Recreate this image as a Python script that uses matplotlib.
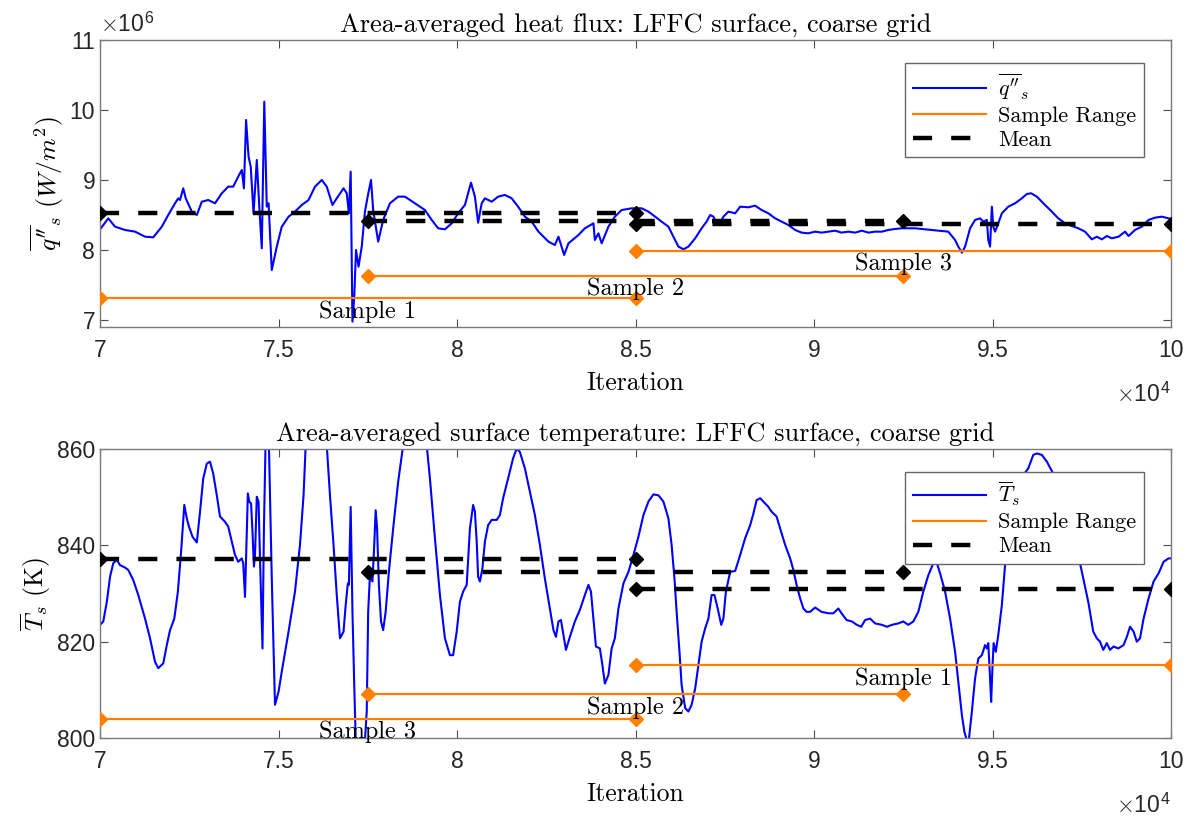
import numpy as np
import matplotlib
matplotlib.use("Agg")
import matplotlib.pyplot as plt
from matplotlib.lines import Line2D
from matplotlib.ticker import FuncFormatter, FixedLocator

# Heat flux (x in 1e4 iterations, y in 1e6 W/m^2)
hf_x = [7.000, 7.023, 7.042, 7.070, 7.098, 7.126, 7.149, 7.173, 7.191, 7.210, 7.219, 7.224, 7.233, 7.240,
        7.257, 7.271, 7.285, 7.303, 7.322, 7.341, 7.359, 7.373, 7.387, 7.397, 7.403, 7.409, 7.416, 7.422,
        7.430, 7.439, 7.446, 7.453, 7.460, 7.467, 7.472, 7.481, 7.495, 7.509, 7.528, 7.546, 7.565, 7.584,
        7.602, 7.621, 7.635, 7.651, 7.663, 7.682, 7.691, 7.697, 7.702, 7.707, 7.712, 7.717, 7.724, 7.733,
        7.742, 7.751, 7.759, 7.765, 7.779, 7.793, 7.812, 7.835, 7.854, 7.882, 7.910, 7.929, 7.947, 7.966,
        7.985, 8.003, 8.022, 8.031, 8.039, 8.050, 8.059, 8.069, 8.078, 8.097, 8.115, 8.134, 8.153, 8.171,
        8.190, 8.209, 8.228, 8.256, 8.274, 8.284, 8.300, 8.312, 8.340, 8.358, 8.382, 8.386, 8.396, 8.405,
        8.424, 8.442, 8.461, 8.489, 8.517, 8.536, 8.555, 8.573, 8.592, 8.606, 8.620, 8.634, 8.648, 8.667,
        8.685, 8.699, 8.709, 8.718, 8.727, 8.737, 8.746, 8.760, 8.779, 8.793, 8.816, 8.835, 8.853, 8.872,
        8.891, 8.909, 8.928, 8.947, 8.965, 8.984, 9.003, 9.021, 9.040, 9.059, 9.077, 9.096, 9.115, 9.134,
        9.152, 9.171, 9.190, 9.208, 9.227, 9.246, 9.283, 9.311, 9.348, 9.376, 9.395, 9.404, 9.414, 9.423,
        9.437, 9.451, 9.465, 9.474, 9.484, 9.488, 9.493, 9.498, 9.502, 9.507, 9.516, 9.526, 9.544, 9.563,
        9.582, 9.596, 9.608, 9.624, 9.647, 9.666, 9.684, 9.703, 9.722, 9.740, 9.759, 9.778, 9.792, 9.806,
        9.820, 9.834, 9.853, 9.871, 9.881, 9.899, 9.918, 9.937, 9.955, 9.974, 9.993, 10.000]
hf_y = [8.295, 8.452, 8.333, 8.286, 8.262, 8.190, 8.181, 8.333, 8.500, 8.667, 8.738, 8.714, 8.881, 8.738,
        8.548, 8.500, 8.690, 8.714, 8.667, 8.810, 8.905, 8.905, 9.048, 9.143, 8.881, 9.857, 9.333, 9.190,
        8.524, 9.286, 8.619, 8.024, 10.119, 8.619, 8.667, 7.714, 8.048, 8.333, 8.476, 8.548, 8.643, 8.714,
        8.905, 9.000, 8.905, 8.643, 8.738, 8.881, 8.810, 8.524, 9.119, 6.976, 7.333, 8.000, 7.762, 8.048,
        8.550, 8.800, 9.000, 8.571, 8.119, 8.429, 8.667, 8.762, 8.762, 8.667, 8.571, 8.429, 8.310, 8.295,
        8.381, 8.524, 8.643, 8.810, 8.962, 8.762, 8.390, 8.667, 8.738, 8.690, 8.762, 8.786, 8.738, 8.619,
        8.476, 8.405, 8.262, 8.119, 8.071, 8.190, 7.929, 8.095, 8.214, 8.310, 8.381, 8.143, 8.238, 8.095,
        8.333, 8.476, 8.571, 8.595, 8.595, 8.548, 8.476, 8.405, 8.333, 8.190, 8.048, 8.010, 8.048, 8.167,
        8.310, 8.405, 8.500, 8.476, 8.381, 8.381, 8.476, 8.548, 8.524, 8.619, 8.610, 8.633, 8.571, 8.524,
        8.452, 8.405, 8.357, 8.286, 8.248, 8.238, 8.262, 8.248, 8.262, 8.276, 8.248, 8.262, 8.248, 8.276,
        8.248, 8.262, 8.262, 8.286, 8.300, 8.310, 8.310, 8.295, 8.276, 8.262, 8.143, 8.048, 7.962, 8.048,
        8.310, 8.429, 8.452, 8.405, 8.429, 8.143, 8.048, 8.619, 8.333, 8.262, 8.381, 8.524, 8.619, 8.667,
        8.738, 8.800, 8.810, 8.762, 8.643, 8.548, 8.452, 8.381, 8.343, 8.310, 8.262, 8.152, 8.190, 8.152,
        8.200, 8.167, 8.190, 8.262, 8.200, 8.286, 8.333, 8.429, 8.462, 8.476, 8.452, 8.440]

# Surface temperature (x in 1e4 iterations, y in K)
ts_x = [7.000, 7.009, 7.019, 7.028, 7.037, 7.047, 7.056, 7.070, 7.079, 7.093, 7.107, 7.126, 7.140, 7.154,
        7.163, 7.177, 7.187, 7.196, 7.208, 7.218, 7.227, 7.236, 7.243, 7.249, 7.259, 7.271, 7.280, 7.289,
        7.299, 7.308, 7.317, 7.327, 7.336, 7.350, 7.359, 7.369, 7.378, 7.387, 7.397, 7.401, 7.406, 7.411,
        7.414, 7.418, 7.423, 7.427, 7.431, 7.434, 7.439, 7.444, 7.448, 7.455, 7.459, 7.464, 7.470, 7.473,
        7.481, 7.490, 7.500, 7.509, 7.528, 7.546, 7.560, 7.570, 7.576, 7.593, 7.612, 7.635, 7.644, 7.654,
        7.663, 7.672, 7.682, 7.688, 7.694, 7.697, 7.702, 7.707, 7.712, 7.716, 7.724, 7.735, 7.742, 7.747,
        7.751, 7.756, 7.763, 7.768, 7.772, 7.776, 7.781, 7.787, 7.793, 7.800, 7.809, 7.821, 7.835, 7.849,
        7.868, 7.891, 7.915, 7.924, 7.938, 7.952, 7.966, 7.980, 7.989, 7.999, 8.008, 8.017, 8.027, 8.036,
        8.045, 8.050, 8.055, 8.059, 8.064, 8.071, 8.078, 8.087, 8.097, 8.111, 8.120, 8.129, 8.143, 8.157,
        8.167, 8.176, 8.190, 8.204, 8.218, 8.232, 8.246, 8.260, 8.270, 8.277, 8.284, 8.291, 8.298, 8.305,
        8.316, 8.330, 8.344, 8.358, 8.368, 8.375, 8.382, 8.389, 8.400, 8.407, 8.414, 8.424, 8.433, 8.442,
        8.452, 8.466, 8.480, 8.494, 8.508, 8.522, 8.536, 8.550, 8.564, 8.578, 8.592, 8.601, 8.609, 8.615,
        8.623, 8.629, 8.639, 8.648, 8.657, 8.667, 8.676, 8.685, 8.695, 8.704, 8.713, 8.721, 8.730, 8.740,
        8.746, 8.753, 8.765, 8.779, 8.793, 8.807, 8.821, 8.830, 8.839, 8.849, 8.863, 8.872, 8.881, 8.895,
        8.905, 8.919, 8.933, 8.942, 8.951, 8.961, 8.970, 8.979, 8.989, 9.003, 9.021, 9.040, 9.054, 9.068,
        9.077, 9.091, 9.106, 9.120, 9.132, 9.143, 9.157, 9.171, 9.190, 9.204, 9.218, 9.236, 9.250, 9.264,
        9.278, 9.292, 9.306, 9.320, 9.334, 9.344, 9.353, 9.367, 9.381, 9.395, 9.404, 9.414, 9.421, 9.432,
        9.442, 9.451, 9.460, 9.470, 9.479, 9.484, 9.488, 9.493, 9.496, 9.500, 9.503, 9.509, 9.516, 9.526,
        9.535, 9.544, 9.554, 9.572, 9.586, 9.600, 9.614, 9.624, 9.638, 9.652, 9.680, 9.710, 9.740, 9.754,
        9.768, 9.782, 9.792, 9.801, 9.810, 9.820, 9.829, 9.839, 9.852, 9.867, 9.876, 9.885, 9.895, 9.904,
        9.913, 9.923, 9.937, 9.951, 9.965, 9.979, 9.993, 10.000]
ts_y = [823.5, 824.2, 828.3, 833.5, 836.3, 837.0, 835.9, 835.4, 834.9, 832.8, 829.7, 824.8, 820.7, 815.8,
        814.5, 815.5, 819.3, 822.4, 824.8, 830.4, 838.7, 848.4, 845.6, 843.9, 841.8, 840.6, 847.0, 853.9,
        857.0, 857.4, 854.9, 850.4, 846.0, 844.9, 843.9, 840.8, 838.0, 836.6, 837.3, 836.3, 829.3, 842.8,
        850.8, 849.1, 848.7, 842.8, 835.6, 838.0, 850.1, 849.1, 837.3, 818.6, 843.5, 862.9, 865.0, 860.8,
        833.1, 806.9, 809.6, 813.8, 822.1, 830.4, 840.1, 850.4, 860.8, 866.4, 866.4, 860.8, 850.4, 840.1,
        829.7, 820.7, 822.1, 827.6, 832.1, 831.8, 848.0, 826.2, 811.0, 799.9, 796.0, 796.0, 799.5, 805.5,
        826.2, 833.8, 832.5, 840.1, 847.3, 843.5, 831.8, 824.2, 822.4, 826.2, 834.5, 843.5, 853.2, 860.8,
        866.0, 866.0, 860.8, 853.9, 841.5, 829.7, 820.7, 817.2, 817.2, 822.1, 828.3, 830.4, 831.8, 843.5,
        848.4, 847.0, 840.8, 833.5, 832.5, 835.2, 840.8, 844.2, 845.3, 845.3, 846.3, 849.8, 853.9, 858.1,
        860.1, 859.4, 856.0, 851.1, 846.3, 840.1, 833.1, 826.9, 822.4, 821.0, 824.2, 824.5, 821.4, 818.3,
        821.0, 824.2, 826.6, 829.7, 831.8, 830.4, 824.8, 819.0, 818.6, 815.2, 811.3, 813.1, 818.6, 820.7,
        826.9, 832.1, 834.5, 838.0, 841.8, 846.3, 849.1, 850.6, 850.4, 849.1, 845.6, 840.1, 833.1, 826.2,
        817.9, 811.0, 806.2, 805.5, 806.9, 810.3, 815.2, 820.0, 822.8, 824.8, 829.7, 829.7, 826.9, 823.5,
        824.8, 830.4, 834.5, 834.7, 838.0, 841.5, 844.2, 846.6, 849.4, 849.8, 848.7, 848.0, 847.0, 846.0,
        843.5, 840.1, 837.3, 834.9, 831.8, 829.0, 826.9, 826.2, 826.2, 827.1, 826.2, 825.9, 825.9, 826.9,
        825.9, 824.5, 824.2, 823.5, 823.1, 824.5, 824.8, 823.8, 823.5, 823.1, 823.5, 823.8, 824.2, 823.5,
        824.2, 826.2, 830.4, 833.8, 836.3, 836.3, 834.2, 830.4, 824.8, 817.9, 811.7, 804.8, 801.3, 798.5,
        805.5, 812.4, 816.5, 817.2, 819.3, 818.6, 819.7, 812.4, 807.5, 815.2, 819.7, 817.9, 821.4, 827.6,
        835.9, 844.2, 849.8, 852.5, 854.6, 856.0, 858.8, 859.1, 858.8, 857.4, 853.5, 846.5, 838.0, 833.1,
        828.3, 822.1, 820.7, 820.0, 818.3, 819.7, 818.3, 819.0, 818.6, 819.3, 821.0, 823.1, 822.1, 820.0,
        820.7, 824.8, 829.0, 832.5, 834.2, 836.6, 837.3, 837.3]

# sample windows (start, end) in 1e4 iterations
win_start = [7.0, 7.75, 8.5]
win_end = [8.5, 9.25, 10.0]
hf_mean = [8.524, 8.414, 8.371]
hf_range_y = [7.31, 7.633, 7.986]
hf_names = ["Sample 1", "Sample 2", "Sample 3"]
ts_mean = [837.1, 834.5, 830.9]
ts_range_y = [804.0, 809.1, 815.1]
ts_names = ["Sample 3", "Sample 2", "Sample 1"]

plt.rcParams['font.family'] = 'Liberation Sans'
plt.rcParams['mathtext.fontset'] = 'cm'
plt.rcParams['axes.unicode_minus'] = False
CM = 'cmr10'
ORANGE = '#ff8000'
TXT = '#262626'

fig = plt.figure(figsize=(11.94, 8.23), dpi=100)
ax1 = fig.add_axes([0.0838, 0.6027, 0.897, 0.3487])
ax2 = fig.add_axes([0.0838, 0.1033, 0.897, 0.351])


def draw_panel(ax, xs, ys, scale, means, ranges, names, ylim, yticks, title, ylabel, leg_label, exp_text):
    xs = np.array(xs) * 1e4
    ys = np.array(ys) * scale
    ax.plot(xs, ys, color='b', lw=1.5, zorder=2)
    for s, e, m, r, n in zip(win_start, win_end, means, ranges, names):
        ax.plot([s * 1e4, e * 1e4], [m * scale, m * scale], color='k', lw=3.2, dashes=(4.3, 4.3),
                marker='D', ms=7, zorder=3)
        ax.plot([s * 1e4, e * 1e4], [r * scale, r * scale], color=ORANGE, lw=1.6,
                marker='D', ms=7, zorder=3)
        ax.annotate(n, xy=((s + e) / 2 * 1e4, r * scale), xytext=(0, -9.5), textcoords='offset points',
                    ha='center', va='center', fontsize=17.5, family=CM, color='k', zorder=4)
    ax.set_xlim(7e4, 1e5)
    ax.set_ylim(ylim[0], ylim[1])
    ax.xaxis.set_major_locator(FixedLocator(np.arange(7, 10.01, 0.5) * 1e4))
    ax.xaxis.set_major_formatter(FuncFormatter(lambda v, p: f'{v / 1e4:g}'))
    ax.yaxis.set_major_locator(FixedLocator(np.array(yticks) * scale))
    ax.yaxis.set_major_formatter(FuncFormatter(lambda v, p: f'{v / scale:g}'))
    ax.tick_params(direction='in', length=6, width=0.8, top=True, right=True, color='#4d4d4d',
                   labelsize=16.5, labelcolor=TXT)
    ax.tick_params(axis='x', pad=9)
    for sp in ax.spines.values():
        sp.set_color('#7a7a7a')
        sp.set_linewidth(1.0)
    ax.set_title(title, family=CM, fontsize=19, pad=6)
    ax.set_xlabel('Iteration', family=CM, fontsize=18.5, labelpad=6)
    ax.set_ylabel(ylabel, family=CM, fontsize=18.5, labelpad=3)
    ax.text(1.0, -0.235, r'$\times\mathdefault{10}^{\mathdefault{4}}$', transform=ax.transAxes,
            ha='right', va='center', fontsize=16.5, color=TXT)
    if exp_text:
        ax.text(0.0, 1.055, exp_text, transform=ax.transAxes, ha='left', va='center',
                fontsize=16.5, color=TXT)
    handles = [Line2D([], [], color='b', lw=1.5),
               Line2D([], [], color=ORANGE, lw=1.6),
               Line2D([], [], color='k', lw=3.2, dashes=(4.3, 4.3))]
    leg = ax.legend(handles, [leg_label, 'Sample Range', 'Mean'], loc='upper right',
                    bbox_to_anchor=(0.975, 0.92), borderaxespad=0, fancybox=False, framealpha=1,
                    edgecolor='#666666', prop={'family': CM, 'size': 16}, handlelength=3.3,
                    handletextpad=0.55, labelspacing=0.2, borderpad=0.35)
    leg.get_frame().set_linewidth(1.0)
    leg.set_zorder(10)


draw_panel(ax1, hf_x, hf_y, 1e6, hf_mean, hf_range_y, hf_names, (6.9e6, 11e6), [7, 8, 9, 10, 11],
           'Area-averaged heat flux: LFFC surface, coarse grid',
           r"$\overline{q''}_s\ (W/m^2)$", r"$\overline{q''}_s$",
           r'$\times\mathdefault{10}^{\mathdefault{6}}$')
draw_panel(ax2, ts_x, ts_y, 1.0, ts_mean, ts_range_y, ts_names, (800, 860), [800, 820, 840, 860],
           'Area-averaged surface temperature: LFFC surface, coarse grid',
           r'$\overline{T}_s$ (K)', r'$\overline{T}_s$', None)

fig.savefig('out.png', dpi=100)
